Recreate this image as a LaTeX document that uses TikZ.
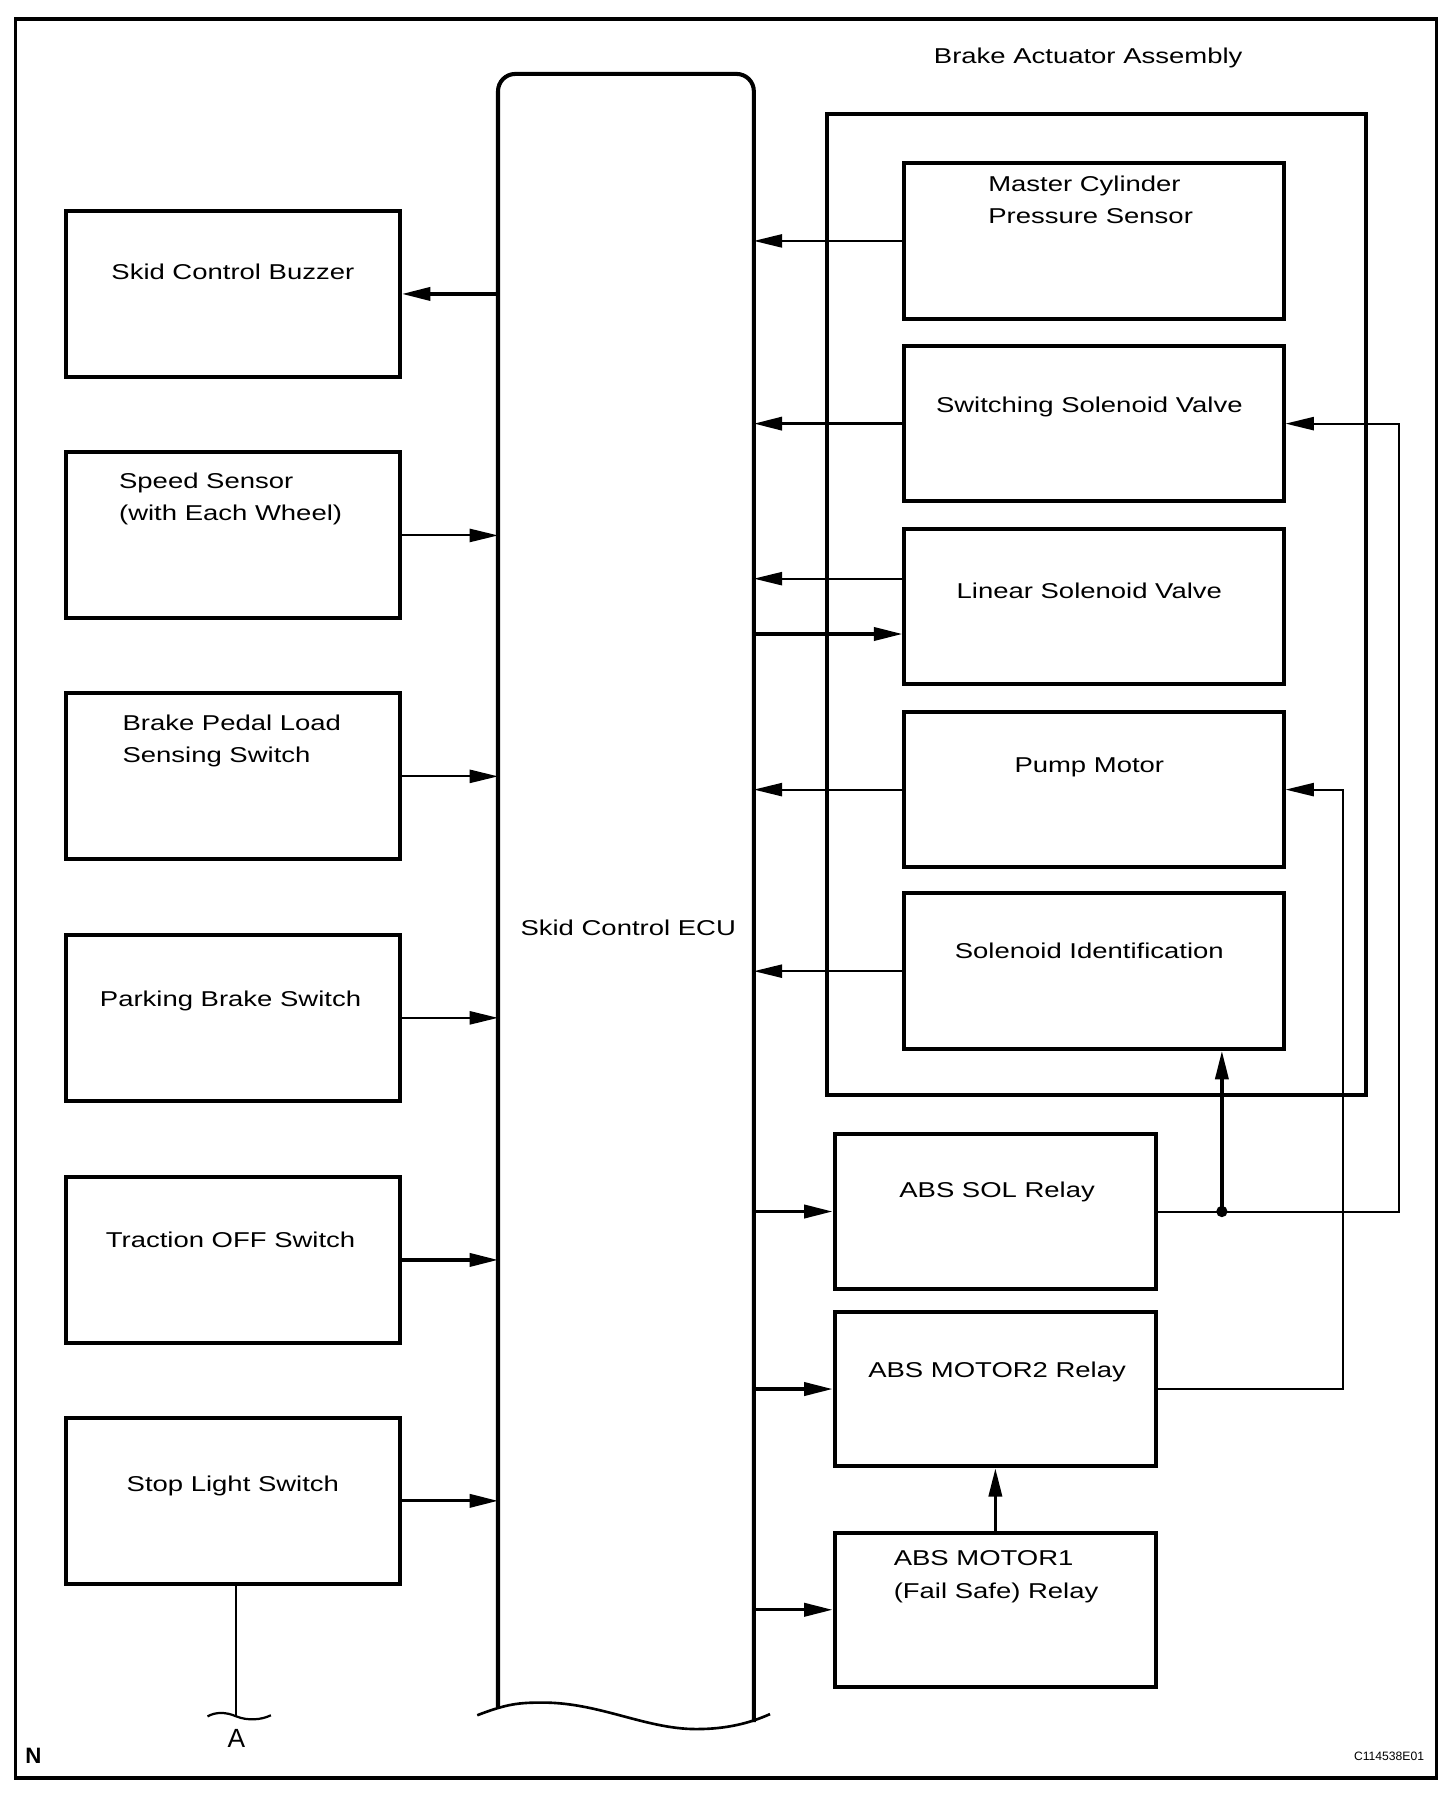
\documentclass[tikz,border=0pt]{standalone}
\usepackage{fontspec}
\setmainfont{Liberation Sans}[FakeStretch=1.28]
\newfontfamily\plainsans{Liberation Sans}
\usetikzlibrary{arrows.meta,calc}

\tikzset{
  box/.style={draw, line width=2pt, inner sep=0pt},
  srcbox/.style={box, minimum width=5.8cm, minimum height=2.88cm},
  actbox/.style={box, minimum width=6.58cm, minimum height=2.7cm},
  relaybox/.style={box, minimum width=5.58cm, minimum height=2.68cm},
  txt/.style={inner sep=0pt, anchor=north},
  txtl/.style={inner sep=0pt, anchor=north west, align=left},
  thinline/.style={line width=1pt},
  thickline/.style={line width=1.6pt},
  sig/.style={-{Triangle[length=14pt,width=6.5pt]}},
}

\begin{document}
\begin{tikzpicture}[x=0.02cm, y=-0.02cm, font=\fontsize{10.6}{15.9}\selectfont]
\useasboundingbox (0,0) rectangle (1263,1565);
\draw[line width=1.7pt] (13.6,16.5) rectangle (1246,1542.6);

% skid control ECU
\node (ecu) [minimum width=4.44cm, minimum height=28.52cm, inner sep=0pt, outer sep=0pt] at (543,777) {};
\draw[line width=2pt, rounded corners=0.3cm] (432,1481) -- (ecu.north west) -- (ecu.north east) -- (654,1494);
\draw[line width=1.3pt] (414,1488) .. controls (440,1478) and (450,1477) .. (471,1477)
  .. controls (520,1477) and (560,1500) .. (604,1500)
  .. controls (630,1500) and (650,1495) .. (668,1487);
\node[txt] at (545,798) {Skid Control ECU};

% inputs and buzzer
\node (buzzer) [srcbox] at (202,255) {};
\node[txt] at (202,229) {Skid Control Buzzer};
\node (speed) [srcbox] at (202,464.5) {};
\node[txtl] at (103,410) {Speed Sensor\\(with Each Wheel)};
\node (pedal) [srcbox] at (202,673.5) {};
\node[txtl] at (106,620) {Brake Pedal Load\\Sensing Switch};
\node (parking) [srcbox] at (202,883) {};
\node[txt] at (200,859) {Parking Brake Switch};
\node (traction) [srcbox] at (202,1093) {};
\node[txt] at (200,1068) {Traction OFF Switch};
\node (stoplight) [srcbox] at (202,1302) {};
\node[txt] at (202,1280) {Stop Light Switch};

\draw[thickline,sig] (buzzer.east -| ecu.west) -- (buzzer.east);
\draw[thinline,sig] (speed.east) -- (speed.east -| ecu.west);
\draw[thinline,sig] (pedal.east) -- (pedal.east -| ecu.west);
\draw[thinline,sig] (parking.east) -- (parking.east -| ecu.west);
\draw[thickline,sig] (traction.east) -- (traction.east -| ecu.west);
\draw[thickline,sig] (stoplight.east) -- (stoplight.east -| ecu.west);

% stop light switch goes on to A
\coordinate (fromSL) at ([xshift=0.06cm]stoplight.south);
\coordinate (toA) at (fromSL |- 0,1489);
\draw[thinline] (fromSL) -- (toA);
\draw[line width=1.1pt] (180,1489) .. controls (187,1485) and (196,1485) .. (toA)
  .. controls (215,1493) and (227,1492) .. (235,1488);
\node[inner sep=0pt, font=\plainsans\fontsize{13}{13}\selectfont] at (205,1508) {A};

% brake actuator assembly
\node (assy) [box, minimum width=9.36cm, minimum height=17.02cm] at (951,524.5) {};
\node[txt] at (944,41) {Brake Actuator Assembly};

\node (master) [actbox] at (949,209) {};
\node[txtl] at (857,152) {Master Cylinder\\Pressure Sensor};
\node (switching) [actbox] at (949,367.5) {};
\node[txt] at (945,344) {Switching Solenoid Valve};
\node (linear) [actbox] at (949,526) {};
\node[txt] at (945,505) {Linear Solenoid Valve};
\node (pump) [actbox] at (949,685) {};
\node[txt] at (945,657) {Pump Motor};
\node (solid) [actbox] at (949,842.5) {};
\node[txt] at (945,818) {Solenoid Identification};

\draw[thinline,sig] (master.west) -- (master.west -| ecu.east);
\draw[thickline,sig] (switching.west) -- (switching.west -| ecu.east);
\draw[thinline,sig] ($(linear.west)+(0,-24)$) -- ($(linear.west -| ecu.east)+(0,-24)$);
\draw[thickline,sig] ($(linear.west -| ecu.east)+(0,24)$) -- ($(linear.west)+(0,24)$);
\draw[thinline,sig] (pump.west) -- (pump.west -| ecu.east);
\draw[thinline,sig] (solid.west) -- (solid.west -| ecu.east);

% relays
\node (solrelay) [relaybox] at (863.5,1051) {};
\node[txt] at (865,1025) {ABS SOL Relay};
\node (motor2) [relaybox] at (863.5,1205) {};
\node[txt] at (865,1181) {ABS MOTOR2 Relay};
\node (motor1) [relaybox] at (863.5,1396.5) {};
\node[txtl] at (775,1345) {ABS MOTOR1\\(Fail Safe) Relay};

\draw[thickline,sig] (solrelay.west -| ecu.east) -- (solrelay.west);
\draw[thickline,sig] (motor2.west -| ecu.east) -- (motor2.west);
\draw[thickline,sig] (motor1.west -| ecu.east) -- (motor1.west);
\draw[thickline,sig] (motor1.north) -- (motor2.south);

\coordinate (jn) at (1060,1051);
\draw[thinline,sig] (solrelay.east) -- ++(209,0) |- (switching.east);
\draw[thinline,sig] (motor2.east) -- ++(160,0) |- (pump.east);
\draw[thickline,sig] (jn) -- (jn |- solid.south);
\fill (jn) circle (2.8pt);

\node[inner sep=0pt, font=\plainsans\bfseries\fontsize{11}{11}\selectfont] at (29,1523) {N};
\node[inner sep=0pt, font=\plainsans\fontsize{6}{6}\selectfont] at (1205,1524) {C114538E01};
\end{tikzpicture}
\end{document}
